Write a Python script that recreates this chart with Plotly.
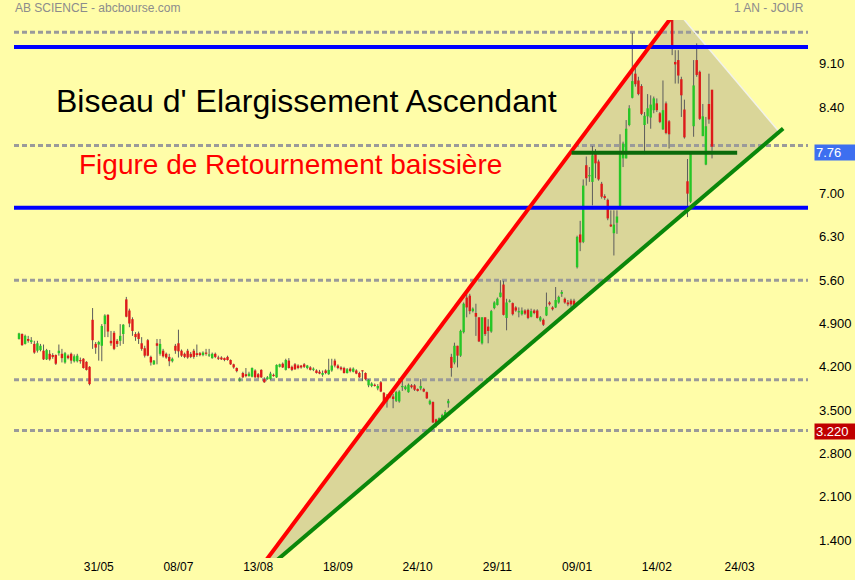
import plotly.graph_objects as go

# ---------------- data ----------------
opens = [4.65,4.73,4.57,4.65,4.60,4.57,4.46,4.47,4.46,4.32,4.41,4.39,4.39,4.42,4.41,4.27,4.38,4.41,4.29,4.29,
         4.31,4.33,4.28,4.20,4.96,4.57,4.56,4.54,4.89,5.04,4.62,4.75,4.62,4.62,4.73,5.29,5.11,4.97,4.73,4.74,
         4.58,4.50,4.63,4.36,4.24,4.58,4.41,4.46,4.41,4.36,4.29,4.54,4.58,4.46,4.41,4.46,4.41,4.46,4.42,4.42,
         4.39,4.43,4.38,4.34,4.41,4.35,4.35,4.34,4.36,4.31,4.24,4.18,3.98,4.10,4.08,4.05,4.04,4.14,4.08,4.15,
         4.00,4.00,4.00,4.07,4.03,4.20,4.25,4.15,4.30,4.20,4.24,4.22,4.22,4.24,4.18,4.19,4.15,4.14,4.12,4.07,
         4.14,4.08,4.14,4.30,4.22,4.19,4.18,4.10,4.17,4.12,4.14,4.10,4.14,4.10,3.90,3.89,3.91,3.85,3.95,3.78,
         3.64,3.71,3.72,3.65,3.64,3.87,3.84,3.79,3.90,3.90,3.84,3.85,3.84,3.79,3.60,3.63,3.35,3.30,3.34,3.39,
         3.61,4.36,4.27,4.54,4.38,4.76,5.32,5.35,5.10,5.07,5.00,4.58,5.00,4.85,4.77,5.15,5.20,5.33,5.53,4.99,
         5.25,5.23,5.16,5.08,5.05,5.11,5.12,5.01,5.11,5.11,4.95,4.96,5.03,5.24,5.16,5.16,5.24,5.38,5.30,5.24,
         5.27,5.27,5.81,6.34,6.22,7.46,7.28,7.19,7.66,7.52,7.16,6.96,6.90,6.50,6.36,6.53,6.80,7.57,7.57,8.11,
         8.55,8.94,8.83,8.74,8.11,8.25,8.23,8.35,8.46,8.30,8.04,8.46,8.17,9.88,9.13,9.16,8.85,8.36,7.20,6.87,
         8.09,9.16,8.97,7.93,7.47,8.45,8.68]
highs = [4.75,4.74,4.72,4.70,4.68,4.62,4.62,4.57,4.56,4.49,4.47,4.42,4.40,4.56,4.49,4.44,4.40,4.43,4.40,4.41,
         4.35,4.34,4.29,4.21,5.15,4.60,4.62,4.89,5.05,5.05,4.78,4.78,4.65,4.89,4.89,5.33,5.14,5.00,4.76,4.77,
         4.68,4.54,4.65,4.38,4.31,4.65,4.65,4.49,4.43,4.41,4.35,4.57,4.80,4.48,4.43,4.49,4.44,4.49,4.56,4.44,
         4.45,4.49,4.49,4.43,4.43,4.38,4.37,4.35,4.38,4.32,4.25,4.19,4.03,4.12,4.18,4.12,4.19,4.16,4.10,4.16,
         4.03,4.05,4.12,4.09,4.24,4.25,4.27,4.33,4.34,4.22,4.26,4.24,4.23,4.26,4.23,4.21,4.19,4.16,4.15,4.14,
         4.16,4.33,4.33,4.33,4.24,4.21,4.20,4.18,4.19,4.19,4.16,4.12,4.14,4.11,4.00,3.95,3.93,3.92,3.97,3.79,
         3.76,3.77,3.76,3.81,3.82,4.00,3.90,3.93,3.92,3.92,3.85,4.00,3.86,3.80,3.67,3.64,3.36,3.38,3.44,3.50,
         3.68,4.41,4.59,4.54,4.80,5.24,5.38,5.38,5.16,5.22,5.00,5.00,5.00,4.97,5.12,5.26,5.32,5.60,5.59,5.30,
         5.29,5.24,5.18,5.16,5.16,5.13,5.14,5.14,5.13,5.13,5.02,4.98,5.40,5.26,5.18,5.49,5.35,5.44,5.32,5.28,
         5.30,5.30,6.32,6.56,7.23,7.60,7.43,7.77,7.72,7.55,7.19,6.99,6.92,6.73,6.73,6.73,7.96,7.84,8.19,8.43,
         9.60,9.05,8.89,8.77,8.32,8.61,8.59,8.57,8.54,8.32,8.83,8.49,8.19,9.95,9.32,9.32,8.89,8.52,7.56,7.68,
         9.16,9.43,8.99,8.45,8.24,8.94,8.68]
lows = [4.64,4.54,4.56,4.59,4.57,4.41,4.43,4.45,4.31,4.31,4.30,4.33,4.23,4.38,4.27,4.25,4.32,4.25,4.27,4.27,
        4.25,4.17,4.14,3.90,4.49,4.41,4.30,4.29,4.68,4.68,4.54,4.47,4.52,4.54,4.57,5.00,4.84,4.70,4.62,4.57,
        4.46,4.35,4.37,4.22,4.23,4.24,4.38,4.35,4.33,4.21,4.27,4.41,4.35,4.36,4.34,4.33,4.34,4.33,4.36,4.37,
        4.37,4.38,4.36,4.33,4.34,4.31,4.31,4.29,4.30,4.23,4.17,4.11,3.96,4.02,4.03,4.04,4.03,4.02,4.01,4.02,
        3.94,3.99,3.99,4.04,4.02,4.19,4.18,4.14,4.17,4.13,4.15,4.16,4.17,4.18,4.16,4.14,4.13,4.09,4.08,4.04,
        4.08,4.07,4.12,4.19,4.16,4.14,4.09,4.09,4.11,4.11,4.08,4.02,3.97,3.98,3.87,3.87,3.88,3.82,3.79,3.60,
        3.54,3.69,3.53,3.63,3.62,3.81,3.82,3.78,3.85,3.81,3.80,3.82,3.79,3.68,3.58,3.29,3.22,3.28,3.32,3.37,
        3.54,4.04,4.24,4.19,4.36,4.74,5.00,5.05,5.08,4.70,4.60,4.56,4.70,4.58,4.75,5.13,5.19,5.32,5.03,4.79,
        5.24,5.03,5.09,5.00,5.03,5.04,4.97,5.00,5.05,4.98,4.93,4.86,5.02,5.19,5.11,5.15,5.22,5.33,5.22,5.18,
        5.17,5.18,5.79,6.07,6.20,7.13,7.19,6.81,7.25,7.21,6.92,6.90,6.57,6.46,6.00,6.35,6.78,7.43,7.57,8.09,
        8.54,8.73,8.59,8.27,7.64,8.13,8.05,8.30,8.32,8.14,8.03,7.96,7.73,9.24,8.78,8.78,8.24,7.89,6.62,6.85,
        7.92,8.89,8.19,7.93,7.46,8.13,7.57]
closes = [4.74,4.55,4.70,4.62,4.63,4.43,4.58,4.54,4.32,4.47,4.32,4.36,4.25,4.46,4.34,4.42,4.34,4.30,4.37,4.38,
          4.29,4.18,4.15,3.92,4.63,4.51,4.60,4.86,5.03,4.77,4.58,4.49,4.57,4.70,4.88,5.01,4.90,4.78,4.68,4.65,
          4.49,4.38,4.38,4.27,4.30,4.54,4.57,4.37,4.35,4.29,4.33,4.46,4.45,4.38,4.36,4.35,4.36,4.36,4.39,4.39,
          4.43,4.41,4.40,4.41,4.36,4.33,4.32,4.31,4.31,4.24,4.19,4.13,4.00,4.03,4.05,4.09,4.18,4.03,4.03,4.03,
          3.95,4.03,4.09,4.05,4.23,4.24,4.19,4.31,4.18,4.15,4.16,4.18,4.19,4.20,4.22,4.15,4.17,4.10,4.09,4.10,
          4.10,4.15,4.22,4.22,4.18,4.16,4.10,4.16,4.13,4.17,4.09,4.03,4.13,4.00,3.99,3.93,3.89,3.89,3.80,3.64,
          3.71,3.75,3.68,3.79,3.80,3.89,3.88,3.91,3.87,3.83,3.81,3.89,3.80,3.69,3.65,3.30,3.25,3.37,3.42,3.47,
          3.65,4.18,4.54,4.38,4.78,5.22,5.16,5.10,5.14,5.01,4.61,5.00,4.73,4.78,5.10,5.24,5.30,5.40,5.04,5.24,
          5.27,5.05,5.11,5.10,5.11,5.06,4.99,5.10,5.07,4.99,5.00,4.88,5.17,5.21,5.13,5.28,5.33,5.41,5.24,5.21,
          5.21,5.19,6.30,6.21,7.13,7.25,7.30,7.62,7.49,7.23,6.95,6.93,6.60,6.47,6.50,6.63,7.65,7.81,8.05,8.38,
          8.82,8.77,8.61,8.29,8.26,8.38,8.44,8.54,8.35,8.16,8.35,7.98,7.96,9.40,9.09,8.91,8.59,7.91,7.00,7.65,
          8.75,8.92,8.21,8.25,8.09,8.20,7.76]

# x axis: trading-day index, date labels every 26 sessions
tick_idx = [26, 52, 78, 104, 130, 156, 182, 208, 235]
tick_txt = ["31/05", "08/07", "13/08", "18/09", "24/10", "29/11", "09/01", "14/02", "24/03"]

# right price axis
price_ticks = [9.10, 8.40, 7.00, 6.30, 5.60, 4.90, 4.20, 3.50, 2.80, 2.10, 1.40]
price_txt = ["9.10", "8.40", "7.00", "6.30", "5.60", "4.900", "4.200", "3.500", "2.800", "2.100", "1.400"]

# drawing tools on the chart (index, price)
dashed_levels = [9.61, 7.78, 5.60, 3.99, 3.17]
blue_levels = [9.37, 6.77]
red_line_x, red_line_y = [79.5, 214.4], [1.0, 9.96]
green_line_x, green_line_y = [82.4, 249.2], [1.0, 8.053]
wedge_x = [79.5, 214.4, 247.9, 82.4]
wedge_y = [1.0, 9.96, 8.00, 1.0]
edge_x, edge_y = [214.4, 247.9], [9.96, 8.00]
neck_x, neck_y = [180.2, 234.2], [7.66, 7.66]
last_price, low_mark = "7.76", "3.220"

x_range = [-1.63, 257.3]
y_range = [1.108, 9.808]

BG = "#FFFDA8"
FONT = "Liberation Sans, Arial, sans-serif"

fig = go.Figure()

# wedge fill
fig.add_trace(go.Scatter(x=wedge_x, y=wedge_y, fill="toself", fillcolor="#DAD699",
                         mode="lines", line=dict(width=0), hoverinfo="skip", showlegend=False))
# dashed levels
for lv in dashed_levels:
    fig.add_trace(go.Scatter(x=x_range, y=[lv, lv], mode="lines",
                             line=dict(color="#9A9A9A", width=3, dash="5px,3px"),
                             hoverinfo="skip", showlegend=False))

# wicks
wx, wy = [], []
for i in range(len(opens)):
    wx += [i, i, None]
    wy += [lows[i], highs[i], None]
fig.add_trace(go.Scatter(x=wx, y=wy, mode="lines", line=dict(color="#5C5C5C", width=1),
                         hoverinfo="skip", showlegend=False))

# bodies (segments, so they stack in trace order with the other layers)
MIN_BODY = 0.018
up_x, up_y, dn_x, dn_y = [], [], [], []
for i, (o, c) in enumerate(zip(opens, closes)):
    lo, hi = min(o, c), max(o, c)
    if hi - lo < MIN_BODY:
        mid = (hi + lo) / 2
        lo, hi = mid - MIN_BODY / 2, mid + MIN_BODY / 2
    if c >= o:
        up_x += [i, i, None]
        up_y += [lo, hi, None]
    else:
        dn_x += [i, i, None]
        dn_y += [lo, hi, None]
fig.add_trace(go.Scatter(x=up_x, y=up_y, mode="lines", line=dict(color="#26C626", width=2.4),
                         hoverinfo="skip", showlegend=False))
fig.add_trace(go.Scatter(x=dn_x, y=dn_y, mode="lines", line=dict(color="#DD1A1A", width=2.4),
                         hoverinfo="skip", showlegend=False))

# wedge right edge
fig.add_trace(go.Scatter(x=edge_x, y=edge_y, mode="lines", line=dict(color="#F2F2EA", width=1.5),
                         hoverinfo="skip", showlegend=False))
# blue levels
for lv in blue_levels:
    fig.add_trace(go.Scatter(x=x_range, y=[lv, lv], mode="lines", line=dict(color="#0000FF", width=4),
                             hoverinfo="skip", showlegend=False))
# trend lines
fig.add_trace(go.Scatter(x=red_line_x, y=red_line_y, mode="lines", line=dict(color="#FF0000", width=4),
                         hoverinfo="skip", showlegend=False))
fig.add_trace(go.Scatter(x=green_line_x, y=green_line_y, mode="lines", line=dict(color="#0A870A", width=4),
                         hoverinfo="skip", showlegend=False))
fig.add_trace(go.Scatter(x=neck_x, y=neck_y, mode="lines", line=dict(color="#0B6A0B", width=4),
                         hoverinfo="skip", showlegend=False))

annotations = [
    dict(text="AB SCIENCE - abcbourse.com", xref="paper", yref="paper", x=-0.0013, y=1.0223,
         xanchor="left", yanchor="middle", showarrow=False, font=dict(size=12, color="#8C8C8C", family=FONT)),
    dict(text="1 AN - JOUR", xref="paper", yref="paper", x=0.9975, y=1.0223,
         xanchor="right", yanchor="middle", showarrow=False, font=dict(size=12, color="#8C8C8C", family=FONT)),
    dict(text="Biseau d' Elargissement Ascendant", xref="paper", yref="paper", x=0.0505, y=0.8494,
         xanchor="left", yanchor="middle", showarrow=False, font=dict(size=32, color="#000000", family=FONT)),
    dict(text="Figure de Retournement baissière", xref="paper", yref="paper", x=0.0793, y=0.7305,
         xanchor="left", yanchor="middle", showarrow=False, font=dict(size=28, color="#FF0000", family=FONT)),
    dict(text=last_price, xref="paper", yref="y", x=1, y=7.67, xanchor="left", yanchor="middle",
         xshift=6, showarrow=False, bgcolor="#3D6FF0", width=43, height=13, align="left", borderpad=1,
         font=dict(size=13, color="#FFFFFF", family=FONT)),
    dict(text=low_mark, xref="paper", yref="y", x=1, y=3.154, xanchor="left", yanchor="middle",
         xshift=6, showarrow=False, bgcolor="#C00000", width=43, height=13, align="left", borderpad=1,
         font=dict(size=13, color="#FFFFFF", family=FONT)),
]

fig.update_layout(
    width=855, height=580,
    margin=dict(l=14, r=47, t=20, b=22, autoexpand=False),
    paper_bgcolor=BG, plot_bgcolor=BG,
    showlegend=False,
    font=dict(family=FONT, color="#000000"),
    annotations=annotations,
    xaxis=dict(range=x_range, tickvals=tick_idx, ticktext=tick_txt, showgrid=False, zeroline=False,
               showline=False, ticks="", tickfont=dict(size=12, color="#000000"), fixedrange=True,
               automargin=False),
    yaxis=dict(range=y_range, side="right", tickvals=price_ticks, ticktext=price_txt, showgrid=False,
               zeroline=False, showline=False, ticks="", ticklabelstandoff=10,
               tickfont=dict(size=13, color="#000000"), fixedrange=True, automargin=False),
)

fig.write_html(
    "out.html",
    config={"displayModeBar": False},
    post_script="document.body.style.margin='0';document.body.style.background='" + BG + "';",
)
